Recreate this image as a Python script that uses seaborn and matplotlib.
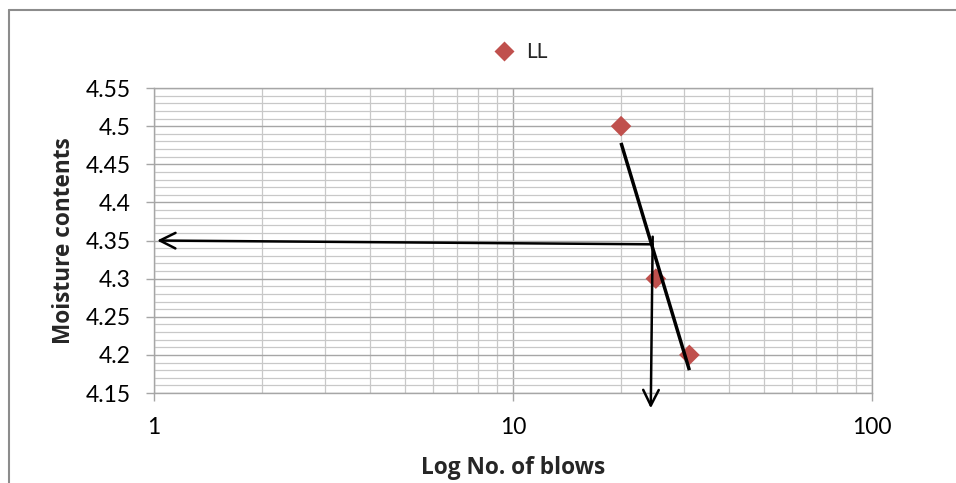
import matplotlib
matplotlib.use("Agg")
import matplotlib.pyplot as plt
import seaborn as sns
import pandas as pd
from matplotlib.ticker import FixedLocator, NullFormatter, FuncFormatter

sns.set_theme(style="white")
plt.rcParams['font.family'] = ['Lato', 'DejaVu Sans']

# Data
blows = [20, 25, 31]
moisture = [4.50, 4.30, 4.20]
series_label = "LL"

# Drawn annotations (trend line, arrows), in data units
trend_x = [20, 31]
trend_y = [4.478, 4.180]
h_arrow_start = (24.5, 4.345)
h_arrow_end = (1.02, 4.35)
v_arrow_start = (24.5, 4.355)
v_arrow_end = (24.2, 4.13)

x_ticks = [1, 10, 100]
y_ticks = [4.15, 4.2, 4.25, 4.3, 4.35, 4.4, 4.45, 4.5, 4.55]
y_tick_labels = ["4.15", "4.2", "4.25", "4.3", "4.35", "4.4", "4.45", "4.5", "4.55"]

df = pd.DataFrame({"blows": blows, "moisture": moisture, "series": series_label})

fig = plt.figure(figsize=(9.56, 4.83), dpi=100)
ax = fig.add_axes([0.1611, 0.1863, 0.9121 - 0.1611, 0.8178 - 0.1863])

ax.set_xscale("log")
ax.set_xlim(1, 100)
ax.set_ylim(4.15, 4.55)

# Grid
minor_x = [m * d for d in (1, 10) for m in range(2, 10)]
ax.xaxis.set_major_locator(FixedLocator(x_ticks))
ax.xaxis.set_minor_locator(FixedLocator(minor_x))
ax.xaxis.set_major_formatter(FuncFormatter(lambda v, p: f"{int(v)}"))
ax.xaxis.set_minor_formatter(NullFormatter())
ax.yaxis.set_major_locator(FixedLocator(y_ticks))
minor_y = [4.15 + 0.01 * i for i in range(41)]
ax.yaxis.set_minor_locator(FixedLocator(minor_y))
ax.set_yticklabels(y_tick_labels)

ax.grid(which="major", color="#a6a6a6", linewidth=1.0)
ax.grid(which="minor", color="#c8c8c8", linewidth=0.9)
ax.set_axisbelow(True)

for s in ["left", "bottom", "top", "right"]:
    ax.spines[s].set_color("#a6a6a6")
    ax.spines[s].set_linewidth(1.0)

ax.tick_params(which="major", axis="both", direction="out", length=6, width=1,
               color="#a6a6a6", labelsize=16.5, labelcolor="black", pad=11,
               bottom=True, left=True)
ax.tick_params(which="minor", length=0)

sns.scatterplot(data=df, x="blows", y="moisture", hue="series", palette=["#c0504d"],
                marker="D", s=110, edgecolor="none", ax=ax, zorder=3, clip_on=False)

# Trend line and arrows
ax.plot(trend_x, trend_y, color="black", linewidth=2.5, zorder=4, solid_capstyle="butt")
ax.annotate("", xy=h_arrow_end, xytext=h_arrow_start,
            arrowprops=dict(arrowstyle="->", color="black", lw=1.8, mutation_scale=28,
                            shrinkA=0, shrinkB=0), annotation_clip=False, zorder=4)
ax.annotate("", xy=v_arrow_end, xytext=v_arrow_start,
            arrowprops=dict(arrowstyle="->", color="black", lw=1.8, mutation_scale=28,
                            shrinkA=0, shrinkB=0), annotation_clip=False, zorder=4)

label_font = dict(family=['Open Sans', 'DejaVu Sans'], size=16.3, weight="bold")
ax.set_xlabel("Log No. of blows", fontdict=label_font, labelpad=13)
ax.set_ylabel("Moisture contents", fontdict=label_font, labelpad=7)

leg = ax.legend(loc="center", bbox_to_anchor=(0.503, 1.118), frameon=False,
                fontsize=15, handletextpad=0.05, markerscale=0.95)

# Outer chart frame (left and top edges visible)
fig.add_artist(plt.Line2D([8.5 / 956, 8.5 / 956], [0, 1 - 9.5 / 483], color="#8c8c8c", lw=1.5))
fig.add_artist(plt.Line2D([8.5 / 956, 1.0], [1 - 9.5 / 483, 1 - 9.5 / 483], color="#8c8c8c", lw=1.5))

fig.savefig("out.png", dpi=100)
